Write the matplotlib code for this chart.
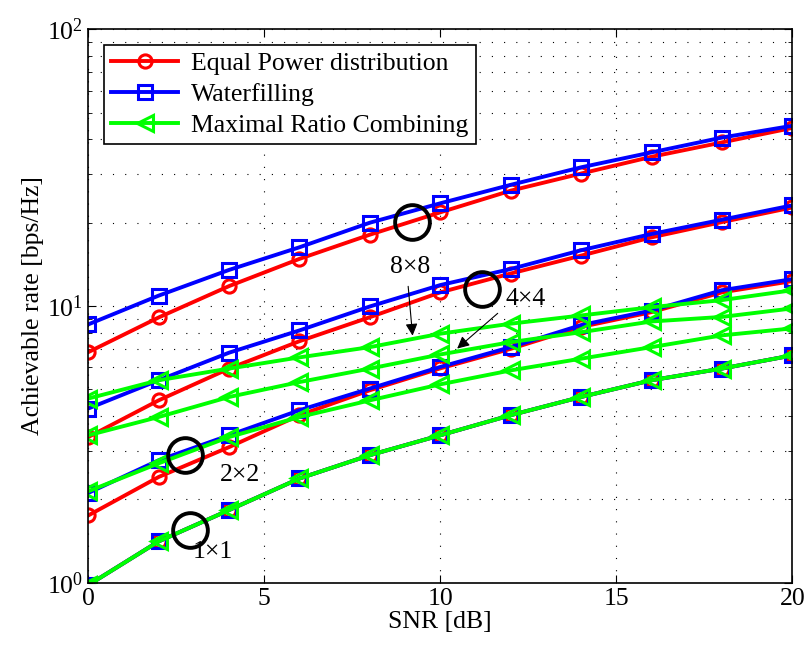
import numpy as np
import matplotlib.pyplot as plt
from matplotlib.ticker import LogLocator, NullFormatter

plt.rcParams['font.family'] = ['Liberation Serif', 'DejaVu Serif']
plt.rcParams['mathtext.fontset'] = 'custom'
plt.rcParams['mathtext.rm'] = 'Liberation Serif'

snr = np.arange(0, 21, 2)

# achievable rate [bps/Hz] for each antenna configuration
ep_8x8 = [6.81, 9.09, 11.8, 14.8, 18.1, 21.8, 26.1, 30.1, 34.6, 39.0, 44.0]
wf_8x8 = [8.58, 10.9, 13.5, 16.3, 20.0, 23.5, 27.4, 31.7, 35.9, 40.6, 44.8]
mrc_8x8 = [4.63, 5.39, 5.94, 6.52, 7.10, 7.94, 8.63, 9.24, 9.90, 10.5, 11.4]

ep_4x4 = [3.36, 4.56, 5.94, 7.46, 9.11, 11.2, 13.1, 15.2, 17.7, 20.1, 22.7]
wf_4x4 = [4.26, 5.39, 6.78, 8.16, 9.96, 11.9, 13.6, 15.9, 18.2, 20.5, 23.1]
mrc_4x4 = [3.41, 3.97, 4.69, 5.31, 5.94, 6.68, 7.40, 8.04, 8.79, 9.13, 9.80]

ep_2x2 = [1.75, 2.41, 3.09, 4.03, 4.96, 5.95, 7.00, 8.40, 9.50, 11.2, 12.3]
wf_2x2 = [2.11, 2.77, 3.41, 4.20, 5.03, 6.02, 7.10, 8.53, 9.63, 11.4, 12.5]
mrc_2x2 = [2.14, 2.70, 3.36, 3.97, 4.56, 5.21, 5.85, 6.45, 7.10, 7.83, 8.30]

siso = [0.98, 1.41, 1.83, 2.38, 2.89, 3.41, 4.03, 4.69, 5.39, 5.94, 6.63]

ep_curves = [ep_8x8, ep_4x4, ep_2x2, siso]
wf_curves = [wf_8x8, wf_4x4, wf_2x2, siso]
mrc_curves = [mrc_8x8, mrc_4x4, mrc_2x2, siso]

# grouping circles and their labels (x in dB, y in bps/Hz)
circle_x = [9.19, 11.18, 2.75, 2.89]
circle_y = [20.1, 11.5, 2.89, 1.55]
label_text = ['8\u00d78', '4\u00d74', '2\u00d72', '1\u00d71']
label_x = [9.14, 12.41, 4.31, 3.54]
label_y = [13.8, 10.6, 2.45, 1.29]
arrow_from = [(9.08, 12.05), (11.69, 9.55)]
arrow_to = [(9.22, 7.63), (10.42, 6.91)]

fs = 18.5

fig = plt.figure(figsize=(8.07, 6.49), dpi=100)
ax = fig.add_axes([0.1094, 0.1022, 0.8724, 0.8527])

style = dict(lw=2.8, ms=9.5, mew=2.2, mfc='none')
for i, y in enumerate(ep_curves):
    ax.plot(snr, y, 'r-o', label='Equal Power distribution' if i == 0 else None, **style)
for i, y in enumerate(wf_curves):
    ax.plot(snr, y, 'b-s', label='Waterfilling' if i == 0 else None, **style)
for i, y in enumerate(mrc_curves):
    ax.plot(snr, y, '-<', color='#00ff00', label='Maximal Ratio Combining' if i == 0 else None,
            lw=2.8, ms=11.5, mew=2.2, mfc='none')

ax.plot(circle_x, circle_y, 'o', ms=25, mfc='none', mec='k', mew=2.8)
for t, x, y in zip(label_text, label_x, label_y):
    ax.text(x, y, t, fontsize=fs, ha='center', va='center')
for p0, p1 in zip(arrow_from, arrow_to):
    ax.annotate('', xy=p1, xytext=p0,
                arrowprops=dict(arrowstyle='-|>', color='k', lw=0.8, mutation_scale=18))

ax.set_yscale('log')
ax.set_xlim(0, 20)
ax.set_ylim(1, 100)
ax.set_xticks([0, 5, 10, 15, 20])
ax.yaxis.set_minor_locator(LogLocator(base=10, subs=np.arange(2, 10)))
ax.yaxis.set_minor_formatter(NullFormatter())
ax.tick_params(which='both', direction='in', top=True, right=True, labelsize=fs)
ax.tick_params(which='major', length=6)
ax.tick_params(which='minor', length=3)
ax.grid(True, which='major', ls=(0, (1, 10)), color='k', lw=0.8)
ax.grid(True, which='minor', axis='y', ls=(0, (1, 10)), color='k', lw=0.8)
for s in ax.spines.values():
    s.set_linewidth(1.2)

ax.set_xlabel('SNR [dB]', fontsize=fs, labelpad=1)
ax.set_ylabel('Achievable rate [bps/Hz]', fontsize=fs, labelpad=2)

leg = ax.legend(loc='upper left', fontsize=fs, fancybox=False, edgecolor='k',
                framealpha=1, borderaxespad=0.6, handlelength=2.6,
                handletextpad=0.5, labelspacing=0.3, borderpad=0.3)
leg.get_frame().set_linewidth(1.2)

fig.savefig('out.png', dpi=100)
